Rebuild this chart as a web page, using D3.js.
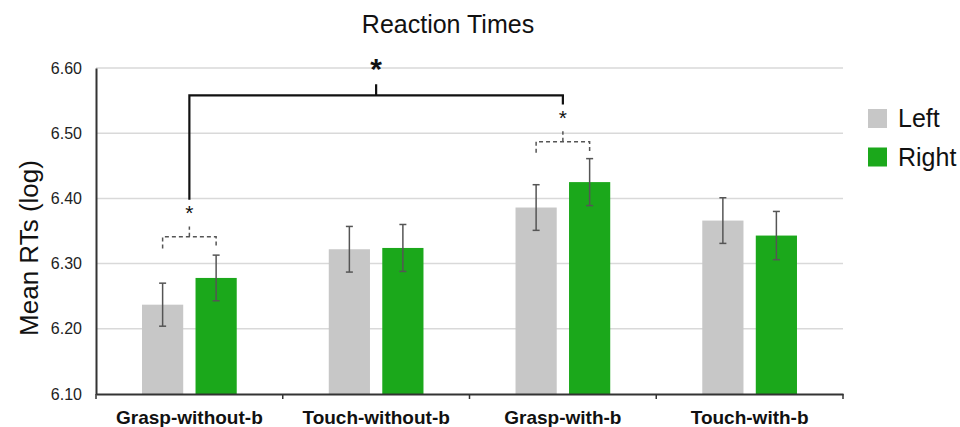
<!DOCTYPE html>
<html>
<head>
<meta charset="utf-8">
<script src="https://cdn.jsdelivr.net/npm/d3@7"></script>
<style>
  body { margin: 0; background: #fff; }
  svg { font-family: "Liberation Sans", Arial, sans-serif; }
</style>
</head>
<body>
<div id="chart"></div>
<script>
// data
var categories = ["Grasp-without-b", "Touch-without-b", "Grasp-with-b", "Touch-with-b"]
var hands = ["Left", "Right"]
var leftMeans = [6.237, 6.322, 6.386, 6.366]
var rightMeans = [6.278, 6.324, 6.425, 6.343]
var leftErr = [0.033, 0.035, 0.035, 0.035]
var rightErr = [0.035, 0.036, 0.036, 0.037]
var yTicks = [6.10, 6.20, 6.30, 6.40, 6.50, 6.60]

// significance marks, in axis units
var pairBrackets = [
  { cat: "Grasp-without-b", y: 6.341, end: 6.323, top: 6.357, star: 6.375 },
  { cat: "Grasp-with-b", y: 6.487, end: 6.470, top: 6.503, star: 6.521 }
]
var mainBracket = { from: "Grasp-without-b", to: "Grasp-with-b", y: 6.558, leftEnd: 6.398, rightEnd: 6.544, top: 6.575 }

var width = 960, height = 427
var margin = { top: 68, right: 117, bottom: 33, left: 96 }

var svg = d3.select("#chart")
  .append("svg")
    .attr("width", width)
    .attr("height", height)

var x0 = d3.scaleBand()
  .domain(categories)
  .range([margin.left, width - margin.right])

var x1 = d3.scaleBand()
  .domain(hands)
  .range([0, x0.bandwidth()])
  .paddingInner(0.23)
  .paddingOuter(0.86)

var y = d3.scaleLinear()
  .domain([6.10, 6.60])
  .range([height - margin.bottom, margin.top])

var color = d3.scaleOrdinal()
  .domain(hands)
  .range(["#c7c7c7", "#1ba81b"])

// gridlines
svg.append("g")
  .selectAll("line")
  .data(yTicks.slice(1))
  .enter()
  .append("line")
    .attr("x1", margin.left)
    .attr("x2", width - margin.right)
    .attr("y1", function(d){ return y(d) })
    .attr("y2", function(d){ return y(d) })
    .attr("stroke", "#d9d9d9")
    .attr("stroke-width", 1.5)

// bars
var rows = categories.map(function(c, i){
  return [
    { cat: c, hand: "Left", v: leftMeans[i], e: leftErr[i] },
    { cat: c, hand: "Right", v: rightMeans[i], e: rightErr[i] }
  ]
})
var flat = d3.merge(rows)

svg.append("g")
  .selectAll("rect")
  .data(flat)
  .enter()
  .append("rect")
    .attr("x", function(d){ return x0(d.cat) + x1(d.hand) })
    .attr("y", function(d){ return y(d.v) })
    .attr("width", x1.bandwidth())
    .attr("height", function(d){ return y(6.10) - y(d.v) })
    .attr("fill", function(d){ return color(d.hand) })

// error bars
var eb = svg.append("g")
  .attr("stroke", "#555")
  .attr("stroke-width", 1.5)
function cx(d){ return x0(d.cat) + x1(d.hand) + x1.bandwidth() / 2 }
eb.selectAll(".stem")
  .data(flat)
  .enter()
  .append("line")
    .attr("x1", cx).attr("x2", cx)
    .attr("y1", function(d){ return y(d.v + d.e) })
    .attr("y2", function(d){ return y(d.v - d.e) })
eb.selectAll(".capTop")
  .data(flat)
  .enter()
  .append("line")
    .attr("x1", function(d){ return cx(d) - 3.5 })
    .attr("x2", function(d){ return cx(d) + 3.5 })
    .attr("y1", function(d){ return y(d.v + d.e) })
    .attr("y2", function(d){ return y(d.v + d.e) })
eb.selectAll(".capBot")
  .data(flat)
  .enter()
  .append("line")
    .attr("x1", function(d){ return cx(d) - 3.5 })
    .attr("x2", function(d){ return cx(d) + 3.5 })
    .attr("y1", function(d){ return y(d.v - d.e) })
    .attr("y2", function(d){ return y(d.v - d.e) })

// axes
var yAxis = svg.append("g")
  .attr("transform", "translate(" + margin.left + ",0)")
  .call(d3.axisLeft(y).tickValues(yTicks).tickFormat(d3.format(".2f")).tickSize(0).tickPadding(14))
yAxis.select(".domain").attr("stroke", "#333").attr("stroke-width", 2)
yAxis.selectAll("text").style("font-size", "16px").attr("fill", "#222")

var xAxis = svg.append("g")
  .attr("transform", "translate(0," + y(6.10) + ")")
  .call(d3.axisBottom(x0).tickSize(0).tickPadding(13))
xAxis.select(".domain").attr("stroke", "#333").attr("stroke-width", 2)
xAxis.selectAll("text")
  .style("font-size", "19px")
  .style("font-weight", "bold")
  .attr("fill", "#111")
  .attr("dy", "0.9em")

// category boundary ticks
svg.append("g")
  .selectAll("line")
  .data(d3.range(categories.length + 1))
  .enter()
  .append("line")
    .attr("x1", function(i){ return margin.left + i * x0.step() })
    .attr("x2", function(i){ return margin.left + i * x0.step() })
    .attr("y1", y(6.10))
    .attr("y2", y(6.10) + 5)
    .attr("stroke", "#333")
    .attr("stroke-width", 1.5)

// dashed pair brackets
pairBrackets.forEach(function(b){
  var xl = x0(b.cat) + x1("Left") + x1.bandwidth() / 2
  var xr = x0(b.cat) + x1("Right") + x1.bandwidth() / 2
  var xm = (xl + xr) / 2
  svg.append("path")
    .attr("d", "M" + xl + "," + y(b.end) + "V" + y(b.y) + "H" + xr + "V" + y(b.end)
      + "M" + xm + "," + y(b.y) + "V" + y(b.top))
    .attr("fill", "none")
    .attr("stroke", "#555")
    .attr("stroke-width", 1.5)
    .style("stroke-dasharray", "4,3")
  svg.append("text")
    .attr("x", xm)
    .attr("y", y(b.star))
    .attr("text-anchor", "middle")
    .attr("dominant-baseline", "middle")
    .style("font-size", "21px")
    .attr("fill", "#111")
    .text("*")
})

// main solid bracket
var mxl = x0(mainBracket.from) + x0.bandwidth() / 2
var mxr = x0(mainBracket.to) + x0.bandwidth() / 2
var mxm = (mxl + mxr) / 2
svg.append("path")
  .attr("d", "M" + mxl + "," + y(mainBracket.leftEnd) + "V" + y(mainBracket.y) + "H" + mxr + "V" + y(mainBracket.rightEnd)
    + "M" + mxm + "," + y(mainBracket.y) + "V" + y(mainBracket.top))
  .attr("fill", "none")
  .attr("stroke", "#111")
  .attr("stroke-width", 2.2)
svg.append("text")
  .attr("x", mxm)
  .attr("y", y(6.596))
  .attr("text-anchor", "middle")
  .attr("dominant-baseline", "middle")
  .style("font-size", "30px")
  .style("font-weight", "bold")
  .attr("fill", "#111")
  .text("*")

// title
svg.append("text")
  .attr("x", 448)
  .attr("y", 33)
  .attr("text-anchor", "middle")
  .style("font-size", "25px")
  .attr("fill", "#111")
  .text("Reaction Times")

// y label
svg.append("text")
  .attr("transform", "translate(38,248) rotate(-90)")
  .attr("text-anchor", "middle")
  .style("font-size", "26px")
  .attr("fill", "#111")
  .text("Mean RTs (log)")

// legend
var legend = svg.append("g")
  .selectAll("g")
  .data(hands)
  .enter()
  .append("g")
    .attr("transform", function(d, i){ return "translate(868," + (109 + i * 38.5) + ")" })
legend.append("rect")
  .attr("width", 19)
  .attr("height", 19)
  .attr("fill", function(d){ return color(d) })
legend.append("text")
  .attr("x", 30)
  .attr("y", 18)
  .style("font-size", "25px")
  .attr("fill", "#111")
  .text(function(d){ return d })
</script>
</body>
</html>
